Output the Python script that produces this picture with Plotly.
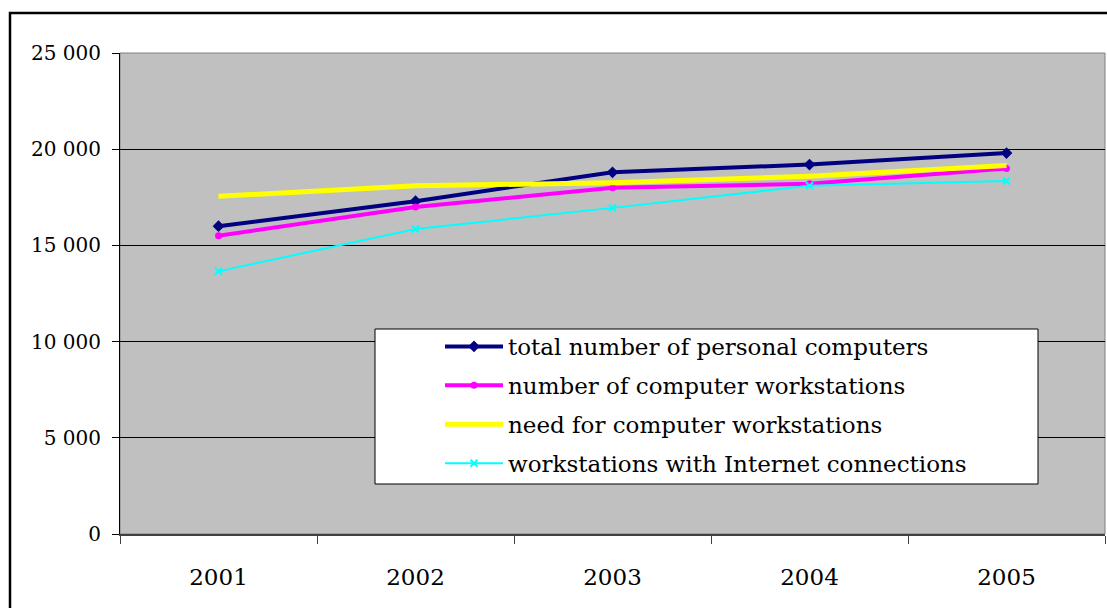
import plotly.graph_objects as go

# Years on the category axis
years = ["2001", "2002", "2003", "2004", "2005"]

# Series values
total_pcs = [16000, 17300, 18800, 19200, 19800]
workstations = [15500, 17000, 18000, 18200, 19000]
need_workstations = [17550, 18100, 18250, 18600, 19150]
internet_workstations = [13650, 15850, 16950, 18100, 18350]

# Y axis ticks
y_ticks = [0, 5000, 10000, 15000, 20000, 25000]
y_tick_labels = ["0", "5 000", "10 000", "15 000", "20 000", "25 000"]

SERIF = "DejaVu Serif"

fig = go.Figure()

fig.add_trace(go.Scatter(
    x=years, y=total_pcs, name="total number of personal computers",
    legendgroup="a",
    mode="lines+markers",
    line=dict(color="#000080", width=4),
    marker=dict(symbol="diamond", size=9, color="#000080"),
))
fig.add_trace(go.Scatter(
    x=years, y=workstations, name="number of computer workstations",
    legendgroup="b",
    mode="lines+markers",
    line=dict(color="#FF00FF", width=4),
    marker=dict(symbol="circle", size=7, color="#FF00FF"),
))
fig.add_trace(go.Scatter(
    x=years, y=need_workstations, name="need for computer workstations",
    legendgroup="c",
    mode="lines",
    line=dict(color="#FFFF00", width=5),
))
fig.add_trace(go.Scatter(
    x=years, y=internet_workstations, name="workstations with Internet connections",
    legendgroup="d",
    mode="lines+markers",
    line=dict(color="#00FFFF", width=2),
    marker=dict(symbol="x-thin", size=7, color="#00FFFF",
                line=dict(color="#00FFFF", width=2)),
))

# White legend panel (covers the gridlines behind the legend)
fig.add_shape(type="rect", xref="paper", yref="paper",
              x0=(375 - 120) / 985, x1=(1038 - 120) / 985,
              y0=(534 - 484) / 481, y1=(534 - 329) / 481,
              fillcolor="white", line=dict(color="black", width=1), layer="above")

# Grey frame of the plot area
fig.add_shape(type="rect", xref="paper", yref="paper",
              x0=0, x1=1, y0=0, y1=1,
              line=dict(color="#808080", width=1), layer="below")

# Outer chart border
fig.add_shape(type="rect", xref="paper", yref="paper",
              x0=(10 - 120) / 985, x1=(1115 - 120) / 985,
              y0=(534 - 620) / 481, y1=(534 - 13) / 481,
              line=dict(color="black", width=2.5), layer="above")

fig.update_layout(
    width=1107, height=608,
    margin=dict(l=120, r=2, t=53, b=74),
    paper_bgcolor="white",
    plot_bgcolor="#C0C0C0",
    font=dict(family=SERIF, color="black"),
    showlegend=True,
    legend=dict(
        x=(440 - 120) / 985, y=(534 - 325) / 481,
        xanchor="left", yanchor="top",
        bgcolor="rgba(0,0,0,0)", borderwidth=0,
        font=dict(family=SERIF, size=23, color="black"),
        itemwidth=58,
        tracegroupgap=6,
    ),
    xaxis=dict(
        type="category",
        tickson="boundaries",
        ticks="outside", ticklen=8, tickcolor="#404040",
        showline=True, linecolor="#404040", linewidth=1.5,
        showgrid=False,
        tickfont=dict(family=SERIF, size=23),
        ticklabelstandoff=22,
        range=[-0.5, 4.5],
    ),
    yaxis=dict(
        range=[0, 25000],
        tickvals=y_ticks, ticktext=y_tick_labels,
        ticks="outside", ticklen=7, tickcolor="black",
        showline=True, linecolor="black", linewidth=1,
        showgrid=True, gridcolor="black", gridwidth=1,
        zeroline=False,
        tickfont=dict(family=SERIF, size=20),
        ticklabelstandoff=7,
    ),
)

fig.write_html("out.html")
